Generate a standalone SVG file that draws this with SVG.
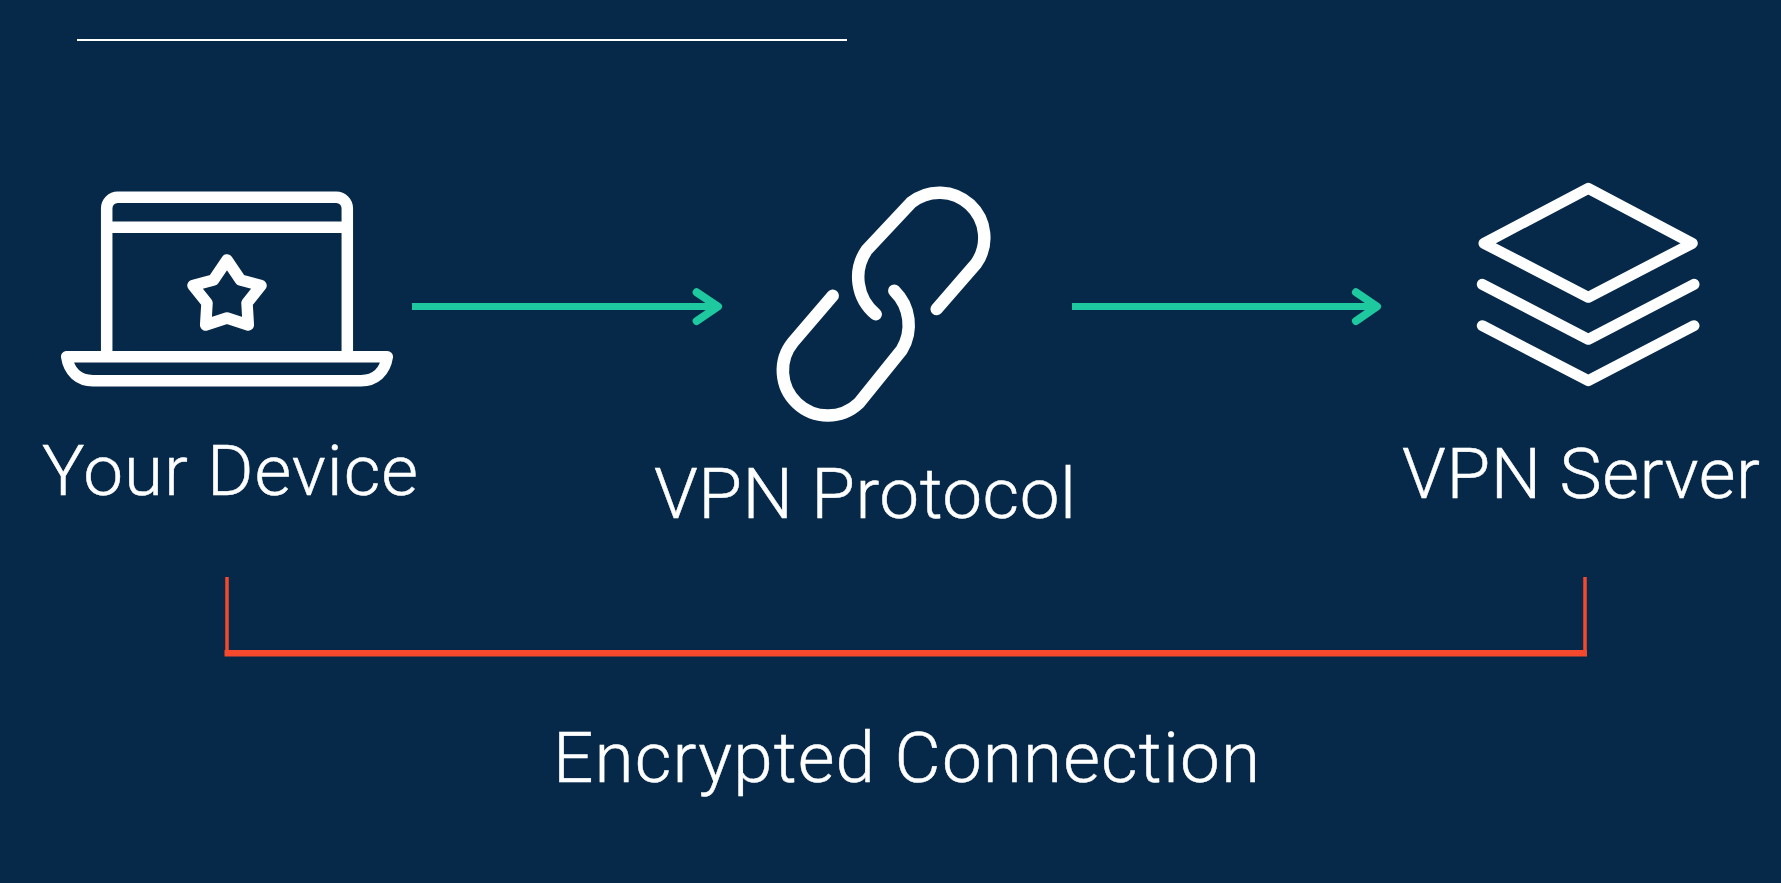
<svg xmlns="http://www.w3.org/2000/svg" width="1781" height="883" viewBox="0 0 1781 883">
<style>
.t{font-family:"Roboto","Liberation Sans",sans-serif;fill:#fff;stroke:#fff;stroke-width:.5;font-size:71px;font-weight:300}
.i{fill:none;stroke:#fff;stroke-width:11.500;stroke-linecap:round;stroke-linejoin:round}
.k{stroke-width:12.500}
.s{stroke-width:11}
.a{fill:none;stroke:#1fc9a0;stroke-width:7;stroke-linejoin:round}
.h{stroke-width:8;stroke-linecap:round}
.r{fill:none;stroke:#f4492c}
</style>
<rect width="1781" height="883" fill="#062949"/>
<line x1="77" y1="40" x2="847" y2="40" stroke="#fff" stroke-width="2"/>
<g id="connectors">
<path class="a" d="M412 306.500H716"/>
<path class="a h" d="M696.700 292.300L718 306.500L696.700 321"/>
<path class="a" d="M1072 306.500H1375"/>
<path class="a h" d="M1356 292.300L1377 306.500L1356 321"/>
<path class="r" stroke-width="3.500" d="M227 577V653M1585 577V653"/>
<path class="r" stroke-width="6.500" d="M224.500 653.300H1587"/>
</g>
<g id="device">
<path class="i" d="M106.700 356V208.300A11 11 0 0 1 117.700 197.300H336.300A11 11 0 0 1 347.300 208.300V356M106.700 227.300H347.300"/>
<path class="i" d="M66.700 356.700H387.300C385 372 375 380.700 361 380.700H93C79 380.700 69 372 66.700 356.700Z"/>
<path class="i" d="M227 260L240.500 280L261 285.500L247 303L248.300 325L227 318L205.700 325L207 303L193 285.500L213.500 280Z"/>
<text class="t" x="42" y="495" textLength="376">Your Device</text>
</g>
<g id="protocol">
<path class="i k" d="M936.700 309L976.300 263.300A45 45 0 0 0 911 202.700L866.700 250A48 48 0 0 0 875.700 314.300"/>
<path class="i k" d="M832.700 295.700L793.300 341.700A45 45 0 0 0 858.700 403.300L901.700 350A48 48 0 0 0 894.300 290.700"/>
<text class="t" x="654" y="518.300" textLength="422">VPN Protocol</text>
</g>
<g id="server">
<path class="i s" d="M1588.300 188.300L1692.300 243.300L1588.300 297.300L1484 243.300Z"/>
<path class="i s" d="M1482.300 284.300L1588.300 339.300L1694 284.300"/>
<path class="i s" d="M1482.300 325.700L1588.300 380.700L1694 325.700"/>
<text class="t" x="1402" y="498.300" textLength="358">VPN Server</text>
</g>
<g id="label"><text class="t" x="553" y="781.500" textLength="707">Encrypted Connection</text></g>
</svg>
